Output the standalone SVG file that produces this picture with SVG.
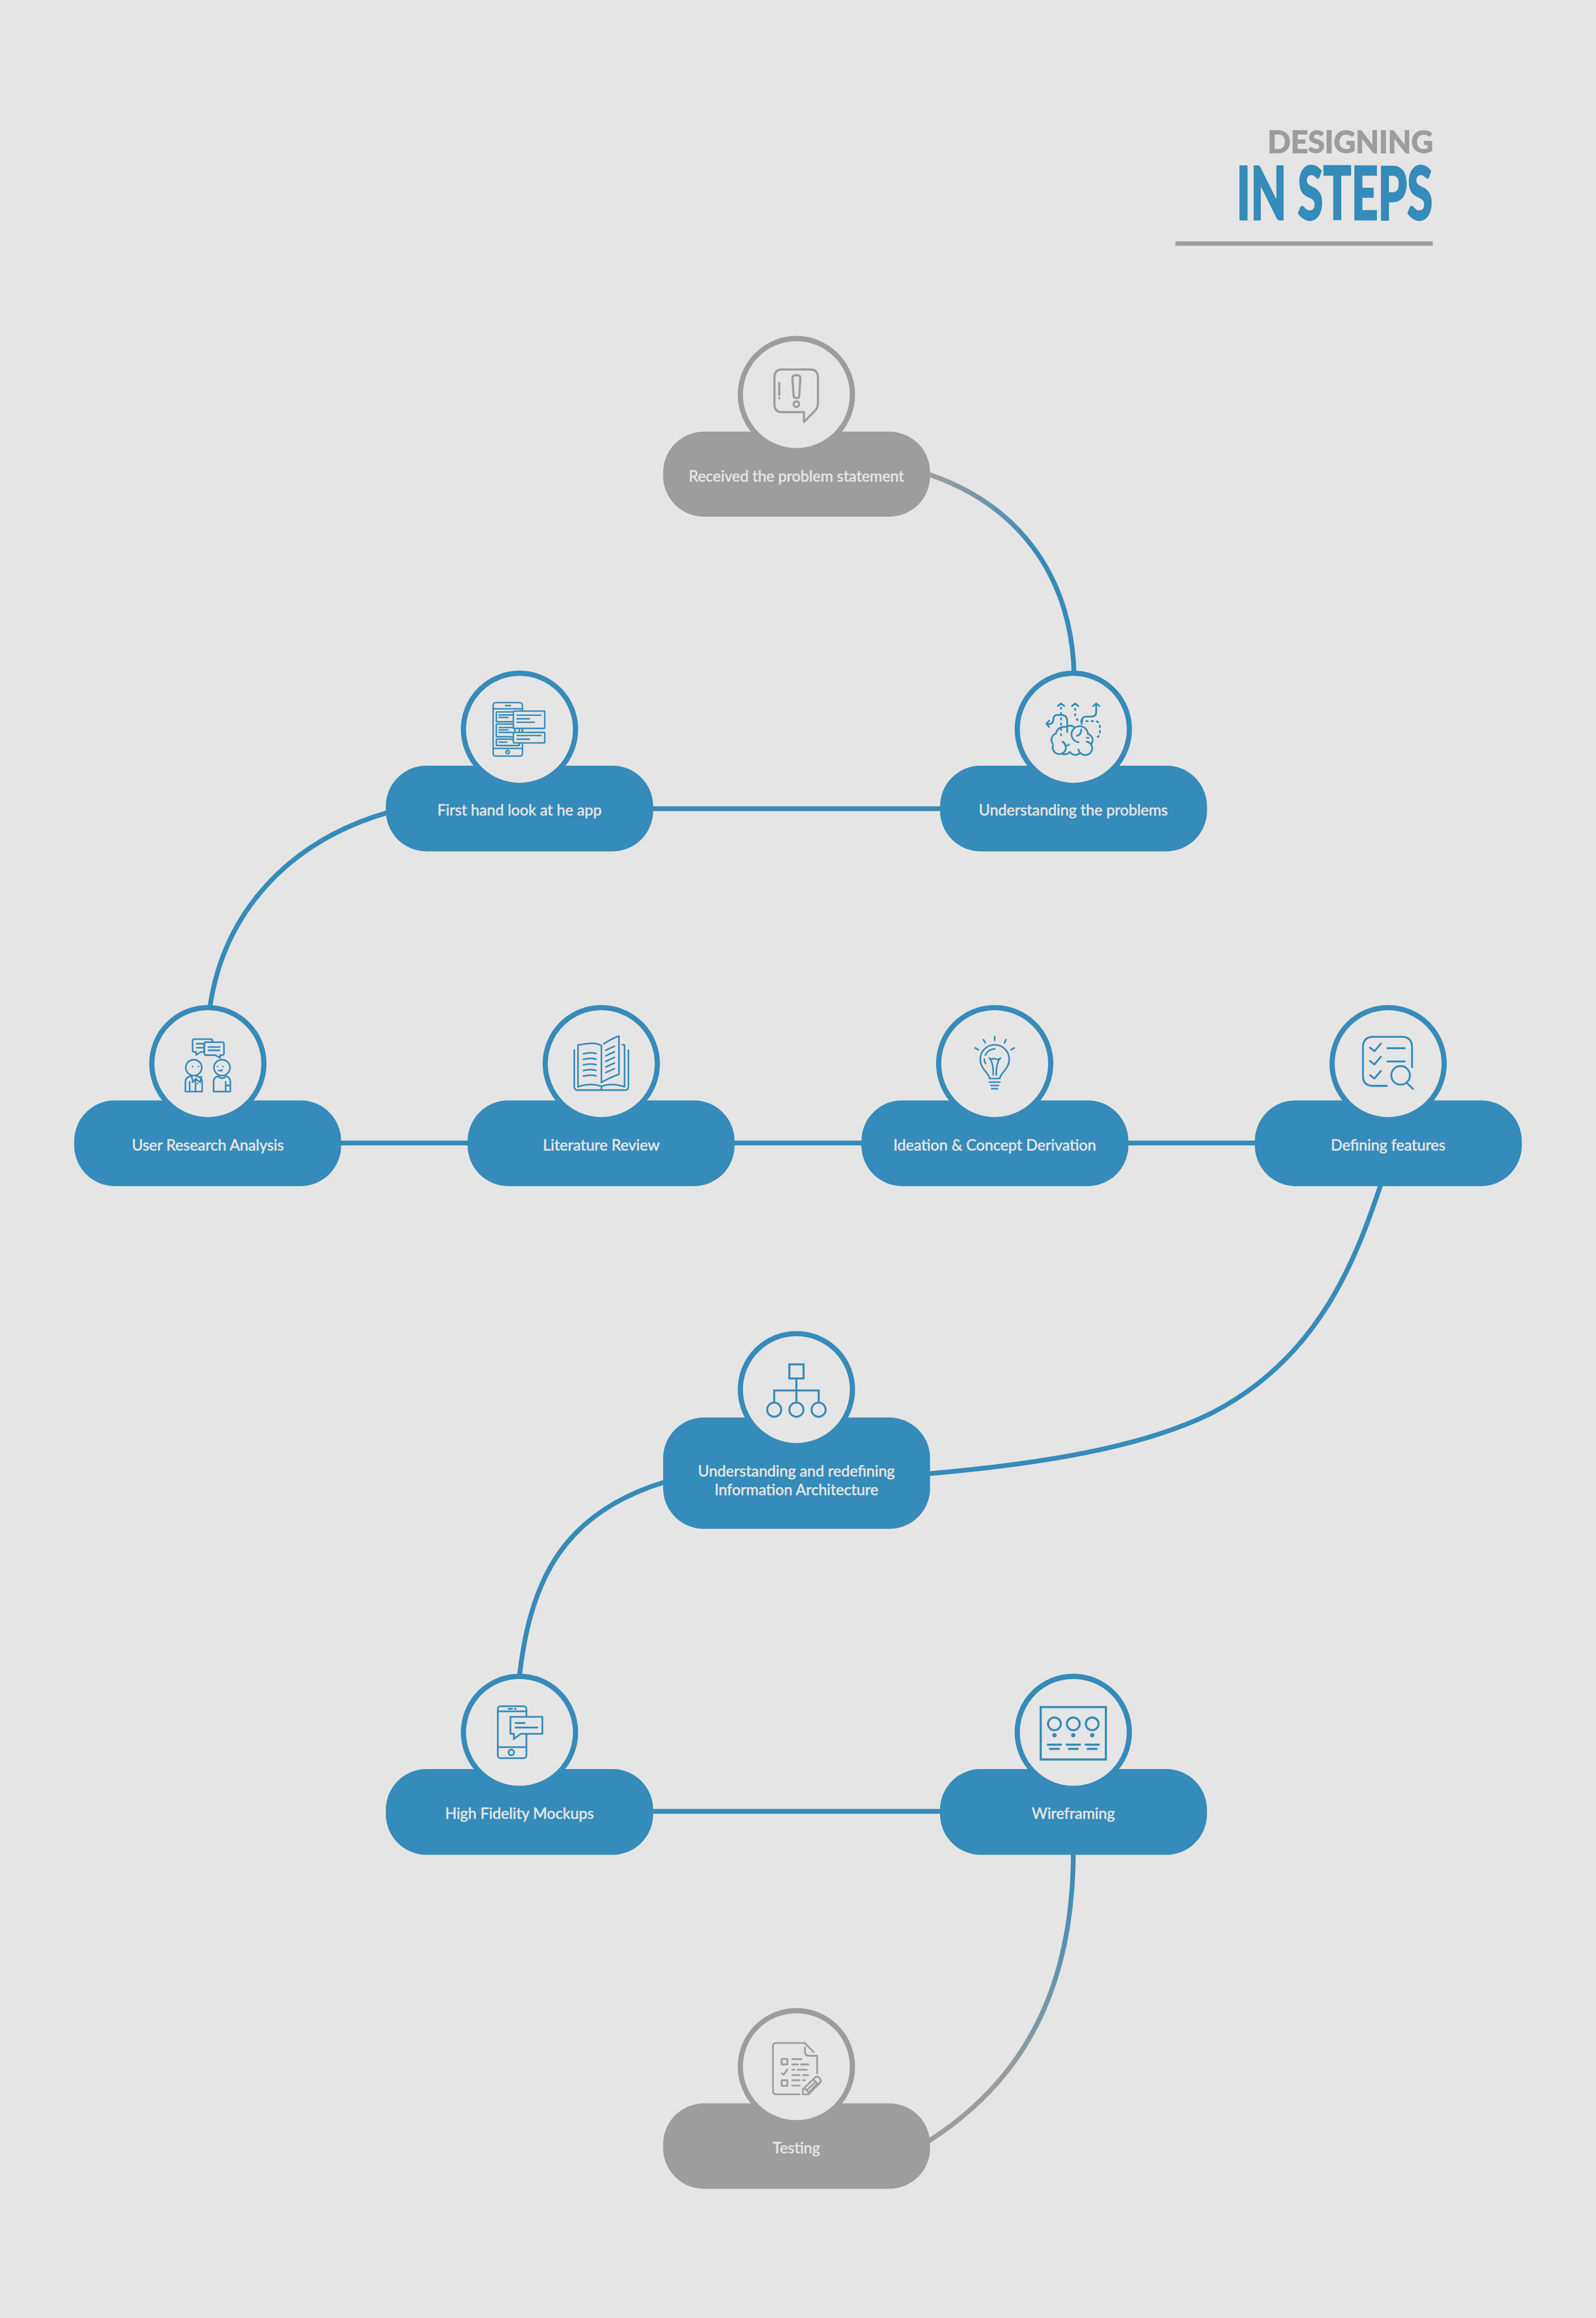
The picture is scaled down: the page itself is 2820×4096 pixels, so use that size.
<svg xmlns="http://www.w3.org/2000/svg" width="2820" height="4096" viewBox="0 0 2820 4096">
<style>
.bg{fill:#e5e5e5}
.pb{fill:#358bb9;rx:102px;ry:102px}
.pg{fill:#9d9d9d;rx:102px;ry:102px}
.cb{fill:#e5e5e5;stroke:#358bb9;stroke-width:13}
.cg{fill:#e5e5e5;stroke:#9d9d9d;stroke-width:13}
.lb{font-family:Lato,"Open Sans",sans-serif;font-size:38px;font-weight:400;fill:#e5e5e5;stroke:#e5e5e5;stroke-width:.9px;text-anchor:middle}
.conn{fill:none;stroke-width:12}
.ib{fill:none;stroke:#358bb9;stroke-linecap:round;stroke-linejoin:round}
.ig{fill:none;stroke:#9d9d9d;stroke-linecap:round;stroke-linejoin:round}
.bt{stroke-linecap:butt;stroke-linejoin:miter}
.fb{fill:#e5e5e5}
.sb{fill:#358bb9;stroke:none}
.sg{fill:#9d9d9d;stroke:none}
.t1{font-family:Lato,"Open Sans",sans-serif;font-size:77px;font-weight:700;fill:#9d9d9d;stroke:#9d9d9d;stroke-width:2.5px}
.t2{font-family:Lato,"Open Sans",sans-serif;font-size:183px;font-weight:900;fill:#358bb9;stroke:#358bb9;stroke-width:4px}
</style>
<defs>
<linearGradient id="gr1" gradientUnits="userSpaceOnUse" x1="2331" y1="1190" x2="2690" y2="1690"><stop offset="0" stop-color="#9d9d9d"/><stop offset="0.5" stop-color="#358bb9"/><stop offset="1" stop-color="#358bb9"/></linearGradient>
<linearGradient id="gr2" gradientUnits="userSpaceOnUse" x1="2690" y1="4647" x2="2331" y2="5365"><stop offset="0" stop-color="#358bb9"/><stop offset="0.75" stop-color="#9d9d9d"/><stop offset="1" stop-color="#9d9d9d"/></linearGradient>
</defs>
<rect class="bg" width="2820" height="4096"/>
<g transform="scale(0.705)">
<g id="title">
<text class="t1" x="3177" y="383" textLength="415" lengthAdjust="spacingAndGlyphs">DESIGNING</text>
<text class="t2" x="3099" y="550" textLength="492" lengthAdjust="spacingAndGlyphs">IN STEPS</text>
<rect x="2946" y="605" width="645" height="11" fill="#9d9d9d"/>
</g>
<g id="connectors" class="conn" stroke="#358bb9">
<path stroke="url(#gr1)" d="M2325 1188C2540 1260 2685 1430 2692 1690"/>
<path d="M1630 2027H2362"/>
<path d="M970 2037C720 2110 560 2290 526 2525"/>
<path d="M850 2865H1180M1835 2865H2165M2820 2865H3150"/>
<path d="M3462 2965C3400 3150 3310 3400 3040 3540C2860 3630 2600 3670 2325 3694"/>
<path d="M1665 3715C1420 3790 1330 3950 1302 4200"/>
<path d="M1630 4540H2362"/>
<path stroke="url(#gr2)" d="M2690 4640C2690 4950 2590 5200 2325 5368"/>
</g>

<g id="n-received">
<rect class="pg" x="1662" y="1082" width="669" height="213"/>
<circle class="cg" cx="1996" cy="989" r="140.5"/>
<g class="ig" stroke-width="5.5">
<path d="M1960 926H2030Q2050 926 2050 946V1010Q2050 1020 2044 1028L2015 1058V1033H1960Q1941 1033 1941 1013V946Q1941 926 1960 926Z"/>
<path d="M1953 960V990"/>
<circle class="sg" cx="1953" cy="998" r="3"/>
<path d="M1986 948Q1986 940 1996 940Q2006 940 2006 948L2003 992Q2003 998 1996 998Q1989 998 1989 992Z"/>
<circle cx="1996" cy="1013" r="7"/>
</g>
<text class="lb" x="1996" y="1207">Received the problem statement</text>
</g>

<g id="n-understanding">
<rect class="pb" x="2356" y="1919" width="669" height="215"/>
<circle class="cb" cx="2690" cy="1828" r="140.5"/>
<g class="ib bt" transform="translate(2500,1660) scale(.3333)" stroke-width="13">
<path stroke-dasharray="20 20" d="M478 335V555"/>
<path d="M450 332L478 310L506 332M556 332L584 310L612 332M716 332L742 310L770 332"/>
<path stroke-dasharray="20 20" d="M584 345V405L605 440"/>
<path d="M632 470V445Q632 408 672 408H705Q742 408 742 375V315"/>
<path d="M524 530V440Q524 396 480 396H450Q420 396 420 430Q420 465 385 465H372M392 435L368 463L392 490"/>
<path stroke-dasharray="22 18" d="M622 442H740Q770 450 770 490V540Q770 552 748 565"/>
<path d="M578 490A40 40 0 0 0 524 485Q450 480 440 535A50 50 0 0 0 418 615"/>
<path d="M420 618A50 50 0 1 0 485 595"/>
<path d="M478 685Q510 705 545 675A48 48 0 0 0 625 675"/>
<path d="M608 650A52 52 0 0 0 712 640A52 52 0 0 0 665 595M700 620Q740 575 680 535"/>
<path d="M680 545A62 62 0 0 0 556 540A62 62 0 0 0 615 602"/>
<path d="M592 552Q630 552 630 500M485 595Q510 610 512 630Q530 628 542 615M668 568H690"/>
</g>
<text class="lb" x="2690" y="2044">Understanding the problems</text>
</g>

<g id="n-firsthand">
<rect class="pb" x="967" y="1919" width="670" height="215"/>
<circle class="cb" cx="1302" cy="1828" r="140.5"/>
<g class="ib" transform="translate(1110,1660) scale(.3333)" stroke-width="11">
<rect x="378" y="303" width="220" height="402" rx="18"/>
<path d="M378 350H598M378 648H598M470 326H508"/>
<circle cx="487" cy="675" r="13"/>
<rect x="402" y="373" width="140" height="74" rx="4"/>
<rect x="402" y="465" width="140" height="95" rx="4"/>
<rect x="402" y="578" width="173" height="48" rx="4"/>
<path d="M422 396H525M422 415H490M422 490H525M422 508H490M422 527H520M422 601H480M575 497V527M597 497V527"/>
<rect class="fb" x="530" y="367" width="236" height="130" rx="4"/>
<rect class="fb" x="530" y="527" width="236" height="79" rx="4"/>
<path d="M558 398H738M558 425H650M558 451H688M558 551H738M558 578H650"/>
</g>
<text class="lb" x="1302" y="2044">First hand look at he app</text>
</g>

<g id="n-research">
<rect class="pb" x="186" y="2758" width="669" height="215"/>
<circle class="cb" cx="521" cy="2666" r="140.5"/>
<g class="ib" transform="translate(340,2500) scale(.3333)" stroke-width="12">
<path d="M442 313H564Q578 313 578 327V337H530Q516 337 516 351V410H490L455 432V410H442Q428 410 428 396V327Q428 313 442 313Z"/>
<path d="M458 348H515M458 378H515"/>
<path d="M530 337H650Q664 337 664 351V420Q664 434 650 434H635V455L600 434H530Q516 434 516 420V351Q516 337 530 337Z"/>
<path d="M548 373H632M548 398H632"/>
<circle cx="437" cy="528" r="60"/>
<circle class="sb" cx="429" cy="520" r="6"/><circle class="sb" cx="472" cy="520" r="6"/>
<path d="M374 708V635Q374 598 420 592M500 708V635Q500 598 455 592M374 708H500"/>
<path d="M422 595L430 638L450 612L485 638L494 595M406 634V708M450 612V708"/>
<circle class="sb" cx="466" cy="648" r="6"/>
<circle cx="649" cy="528" r="60"/>
<circle class="sb" cx="615" cy="520" r="6"/><circle class="sb" cx="657" cy="520" r="6"/>
<path d="M625 548Q637 556 650 546"/>
<path d="M586 708V635Q586 600 620 592Q650 625 680 592Q712 600 712 635V708ZM677 634V708M677 662H712"/>
</g>
<text class="lb" x="521" y="2883">User Research Analysis</text>
</g>

<g id="n-literature">
<rect class="pb" x="1172" y="2758" width="669" height="215"/>
<circle class="cb" cx="1507" cy="2666" r="140.5"/>
<g class="ib" transform="translate(1330,2500) scale(.3333)" stroke-width="12">
<path d="M328 395V670Q328 697 355 697H708Q735 697 735 670V395"/>
<path d="M356 672V358C430 345 490 335 532 362V638"/>
<path d="M356 672C420 650 480 650 532 668C580 650 640 650 706 672V358L690 356"/>
<path d="M550 348Q610 310 664 290V578Q600 600 530 640M532 668V697"/>
<path d="M396 424Q445 410 492 422M396 466Q445 452 492 464M396 508Q445 494 492 506M396 550Q445 536 492 548M396 592Q445 578 492 590"/>
<path d="M565 397Q600 380 630 367M565 439Q600 422 630 409M565 481Q600 464 630 451M565 523Q600 506 630 493M565 565Q600 548 630 535"/>
</g>
<text class="lb" x="1507" y="2883">Literature Review</text>
</g>

<g id="n-ideation">
<rect class="pb" x="2159" y="2758" width="669" height="215"/>
<circle class="cb" cx="2493" cy="2666" r="140.5"/>
<g class="ib" transform="translate(2310,2500) scale(.3333)" stroke-width="12">
<path d="M549 295V322M465 318L478 342M634 318L622 342M402 380L426 394M696 380L672 394"/>
<path d="M510 610C510 570 440 540 440 465A109 109 0 0 1 658 465C658 540 588 570 588 610Z"/>
<path d="M478 434Q500 390 550 387M471 463Q470 480 480 497"/>
<path d="M508 456Q525 470 535 462Q548 455 558 465Q575 470 592 456Q560 490 561 583M508 456Q540 490 538 583"/>
<path d="M510 637H588M520 662H578M527 687H571"/>
</g>
<text class="lb" x="2493" y="2883">Ideation &amp; Concept Derivation</text>
</g>

<g id="n-defining">
<rect class="pb" x="3145" y="2758" width="669" height="215"/>
<circle class="cb" cx="3479" cy="2666" r="140.5"/>
<g class="ib" transform="translate(3300,2500) scale(.3333)" stroke-width="14">
<path d="M528 665H425Q348 665 348 590V375Q348 296 425 296H640Q717 296 717 375V525"/>
<path d="M401 378L434 404L483 347M401 478L434 504L483 446M401 584L434 610L483 553"/>
<path d="M532 382H662M532 481H662"/>
<circle cx="631" cy="586" r="70"/>
<path d="M680 645L724 688"/>
</g>
<text class="lb" x="3479" y="2883">Defining features</text>
</g>

<g id="n-ia">
<rect class="pb" x="1662" y="3553" width="669" height="279"/>
<circle class="cb" cx="1996" cy="3483" r="140.5"/>
<g class="ib bt" transform="translate(1820,3320) scale(.3333)" stroke-width="15">
<rect x="475" y="299" width="107" height="106"/>
<path d="M528 405V585M361 585V495H696V585"/>
<circle cx="361" cy="640" r="53"/><circle cx="528" cy="640" r="53"/><circle cx="695" cy="640" r="53"/>
</g>
<text class="lb" x="1996" y="3700">Understanding and redefining</text>
<text class="lb" x="1996" y="3747">Information Architecture</text>
</g>

<g id="n-hifi">
<rect class="pb" x="967" y="4434" width="670" height="215"/>
<circle class="cb" cx="1302" cy="4342" r="140.5"/>
<g class="ib" transform="translate(1120,4180) scale(.3333)" stroke-width="13">
<rect x="383" y="290" width="215" height="390" rx="20"/>
<path d="M383 328H598M383 597H598M463 309H491M510 309H518"/>
<circle cx="484" cy="637" r="21"/>
<path class="fb bt" d="M478 370H718V497H555L504 535V497H478Z"/>
<path d="M516 416H585M516 450H680"/>
</g>
<text class="lb" x="1302" y="4559">High Fidelity Mockups</text>
</g>

<g id="n-wire">
<rect class="pb" x="2356" y="4434" width="669" height="215"/>
<circle class="cb" cx="2690" cy="4342" r="140.5"/>
<g class="ib bt" transform="translate(2510,4180) scale(.3333)" stroke-width="16">
<rect x="295" y="296" width="490" height="394"/>
<circle cx="398" cy="422" r="48"/><circle cx="540" cy="422" r="48"/><circle cx="682" cy="422" r="48"/>
<circle class="sb" cx="398" cy="508" r="16"/><circle class="sb" cx="540" cy="508" r="16"/><circle class="sb" cx="682" cy="508" r="16"/>
<path d="M342 579H454M484 579H596M626 579H738M358 611H438M500 611H580M642 611H722"/>
</g>
<text class="lb" x="2690" y="4559">Wireframing</text>
</g>

<g id="n-testing">
<rect class="pg" x="1662" y="5272" width="669" height="214"/>
<circle class="cg" cx="1996" cy="5180" r="140.5"/>
<g class="ig" transform="translate(1820,5010) scale(.3333)" stroke-width="13">
<path d="M553 718H375Q352 718 352 695V355Q352 332 375 332H590L658 400M684 560V428H620Q592 428 592 395V365"/>
<rect x="417" y="452" width="43" height="41"/>
<rect x="417" y="612" width="43" height="42"/>
<path d="M418 560L432 572L460 530"/>
<path d="M497 453H565M497 493H540M563 493H618M497 533H513M537 533H606M497 573H552M577 573H618M497 612H552M577 612H592M497 652H552"/>
<path d="M577 680V718H620L710 625Q715 615 705 600L695 590Q680 580 670 590ZM590 675L622 705M655 605L695 645M605 688L668 628M625 700L682 640"/>
</g>
<text class="lb" x="1996" y="5397">Testing</text>
</g>
</g>
</svg>
